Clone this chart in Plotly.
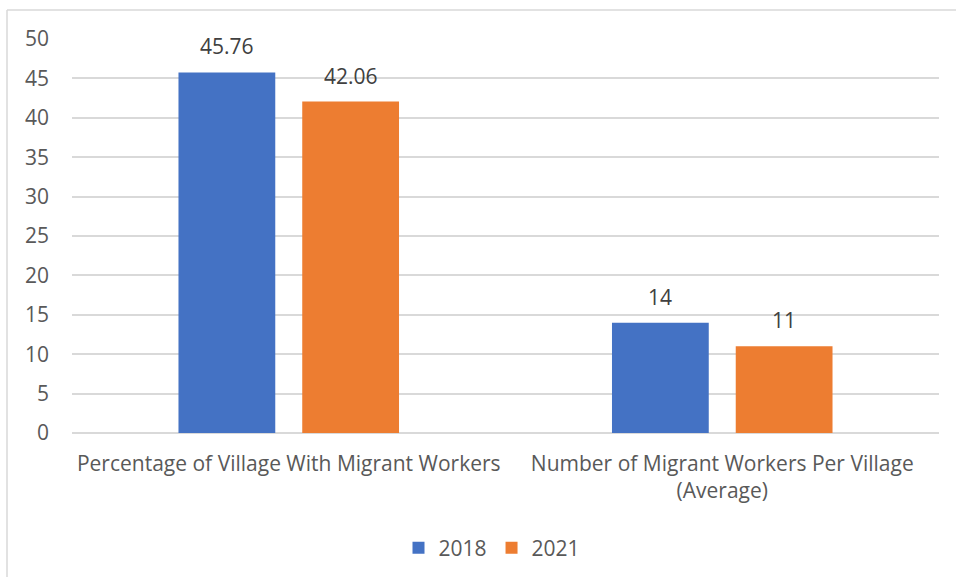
import plotly.graph_objects as go

categories = ["Percentage of Village With Migrant Workers",
              "Number of Migrant Workers Per Village<br>(Average)"]
years = ["2018", "2021"]
values_2018 = [45.76, 14]
values_2021 = [42.06, 11]
labels_2018 = ["45.76", "14"]
labels_2021 = ["42.06", "11"]
colors = {"2018": "#4472C4", "2021": "#ED7D31"}
y_ticks = [0, 5, 10, 15, 20, 25, 30, 35, 40, 45, 50]

W, H = 956, 577
L, R, T, B = 72, 939, 39, 433  # plot area in pixels

FONT = "Open Sans, Noto Sans, sans-serif"
GREY = "#595959"
FS = 21
BARGAP = 0.429
BARGROUPGAP = 0.218

fig = go.Figure()
series = [("2018", values_2018, labels_2018), ("2021", values_2021, labels_2021)]
for yr, vals, labs in series:
    fig.add_trace(go.Bar(
        name=yr, x=categories, y=vals,
        marker=dict(color=colors[yr], line=dict(width=0)),
    ))

# value labels sit a little higher above each bar than Plotly's outside text
cat_px = (R - L) / len(categories)
slot_px = cat_px * (1 - BARGAP) / len(series)
annotations = []
for i, (yr, vals, labs) in enumerate(series):
    offset = (i - (len(series) - 1) / 2) * slot_px
    for cat, v, lab in zip(categories, vals, labs):
        annotations.append(dict(
            x=cat, y=v, xref="x", yref="y", text=lab, showarrow=False,
            xshift=offset, yshift=26, yanchor="middle",
            font=dict(size=FS, color="#404040", family=FONT),
        ))

def px_x(p):
    return (p - L) / (R - L)

def px_y(p):
    return (B - p) / (B - T)

shapes = [
    dict(type="line", xref="paper", yref="paper",
         x0=px_x(7), x1=px_x(960), y0=px_y(10), y1=px_y(10),
         line=dict(color="#d9d9d9", width=1.5)),
    dict(type="line", xref="paper", yref="paper",
         x0=px_x(7), x1=px_x(7), y0=px_y(10), y1=px_y(580),
         line=dict(color="#d9d9d9", width=1.5)),
]

fig.update_layout(
    width=W, height=H,
    margin=dict(l=L, r=W - R, t=T, b=H - B, autoexpand=False),
    paper_bgcolor="white", plot_bgcolor="white",
    barmode="group", bargap=BARGAP, bargroupgap=BARGROUPGAP,
    font=dict(family=FONT, color=GREY, size=FS),
    showlegend=True,
    legend=dict(orientation="h", x=px_x(492), xanchor="center", y=px_y(548), yanchor="middle",
                font=dict(size=FS, color=GREY), itemwidth=30, traceorder="normal"),
    shapes=shapes,
    annotations=annotations,
)
fig.update_xaxes(showgrid=False, showline=False, ticks="", tickfont=dict(size=FS, color=GREY),
                 ticklabelstandoff=16)
fig.update_yaxes(range=[0, 50], tickvals=y_ticks, showgrid=True, gridcolor="#d9d9d9", gridwidth=1.5,
                 zeroline=True, zerolinecolor="#d9d9d9", zerolinewidth=1.5,
                 showline=False, ticks="", tickfont=dict(size=FS, color=GREY),
                 ticklabelstandoff=22)

fig.write_html("out.html")
